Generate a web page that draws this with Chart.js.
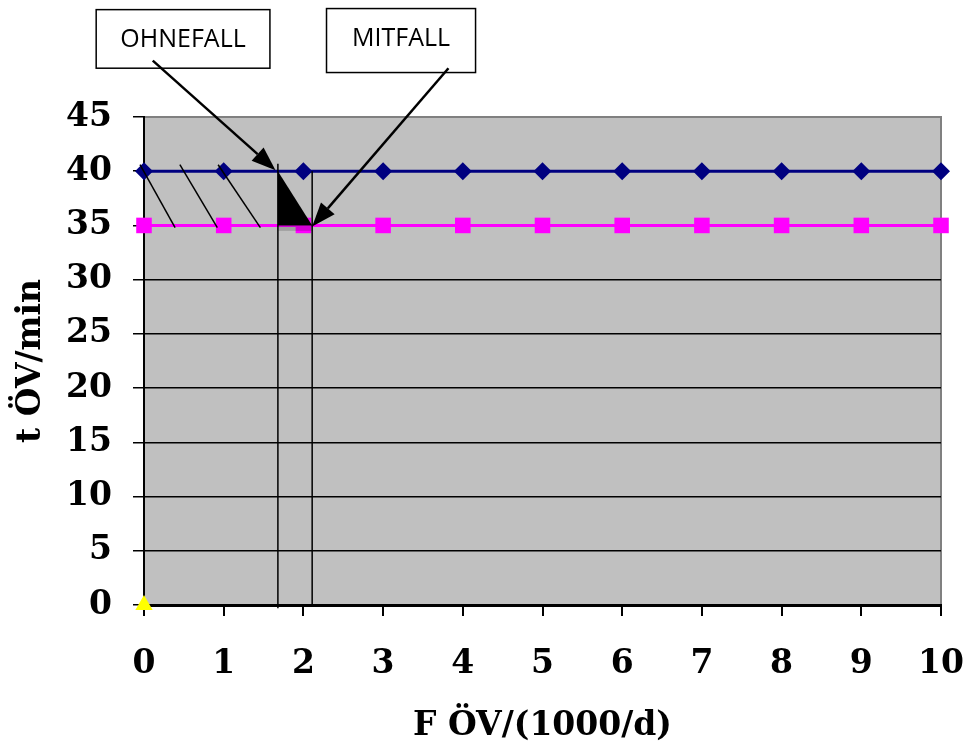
<!DOCTYPE html>
<html>
<head>
<meta charset="utf-8">
<script src="https://cdn.jsdelivr.net/npm/chart.js@4/dist/chart.umd.min.js"></script>
<style>
  html, body { margin: 0; padding: 0; background: #ffffff; }
  canvas { display: block; }
</style>
</head>
<body>
<canvas id="chart" width="967" height="749"></canvas>
<script>
/* data */
var xValues = [0, 1, 2, 3, 4, 5, 6, 7, 8, 9, 10];
var ohneFall = [40, 40, 40, 40, 40, 40, 40, 40, 40, 40, 40];
var mitFall = [35, 35, 35, 35, 35, 35, 35, 35, 35, 35, 35];
var originX = [0];
var originY = [0];

var xTitle = "F ÖV/(1000/d)";
var yTitle = "t ÖV/min";

/* annotation marks, in axis units */
var fallX = [1.68, 2.11];
var hatchStart = [[-0.05, 40.6], [0.45, 40.6], [0.93, 40.6]];
var hatchEnd = [[0.39, 34.8], [0.92, 34.8], [1.46, 34.8]];
var boxLabels = ["OHNEFALL", "MITFALL"];
var boxFrom = [[-0.60, 54.9], [2.29, 55.0]];
var boxTo = [[1.58, 49.5], [4.16, 49.1]];
var arrowFrom = [[0.11, 50.2], [3.82, 49.5]];
var arrowTo = [[1.65, 40.1], [2.11, 34.9]];

function toPoints(xs, ys){
	var pts = [];
	for(var i = 0; i < xs.length; i++){
		pts.push({x: xs[i], y: ys[i]});
	}
	return pts;
}

var serif = "'DejaVu Serif', serif";

var bgPlugin = {
	id: 'plotBg',
	beforeDraw: function(chart){
		var a = chart.chartArea;
		var ctx = chart.ctx;
		ctx.save();
		ctx.fillStyle = "#C0C0C0";
		ctx.fillRect(a.left, a.top, a.right - a.left, a.bottom - a.top);
		ctx.strokeStyle = "#808080";
		ctx.lineWidth = 2;
		ctx.beginPath();
		ctx.moveTo(a.left, a.top);
		ctx.lineTo(a.right, a.top);
		ctx.lineTo(a.right, a.bottom);
		ctx.stroke();
		ctx.restore();
	}
};

function arrow(ctx, x1, y1, x2, y2){
	var ang = Math.atan2(y2 - y1, x2 - x1);
	var len = 24, half = 9;
	var bx = x2 - Math.cos(ang) * len;
	var by = y2 - Math.sin(ang) * len;
	ctx.beginPath();
	ctx.moveTo(x1, y1);
	ctx.lineTo(bx, by);
	ctx.stroke();
	ctx.beginPath();
	ctx.moveTo(x2, y2);
	ctx.lineTo(bx + Math.sin(ang) * half, by - Math.cos(ang) * half);
	ctx.lineTo(bx - Math.sin(ang) * half, by + Math.cos(ang) * half);
	ctx.closePath();
	ctx.fill();
}

var annoPlugin = {
	id: 'annos',
	afterDatasetsDraw: function(chart){
		var ctx = chart.ctx;
		var xs = chart.scales.x, ys = chart.scales.y;
		function px(v){ return xs.getPixelForValue(v); }
		function py(v){ return ys.getPixelForValue(v); }
		ctx.save();
		ctx.strokeStyle = "#000000";

		/* shaded strip under the triangle */
		ctx.fillStyle = "rgba(0,0,0,0.17)";
		ctx.fillRect(px(fallX[0]), py(35), px(fallX[1]) - px(fallX[0]), py(34.5) - py(35));

		/* black triangle */
		ctx.fillStyle = "#000000";
		ctx.beginPath();
		ctx.moveTo(px(fallX[0]), py(40));
		ctx.lineTo(px(fallX[0]), py(35));
		ctx.lineTo(px(fallX[1]), py(35));
		ctx.closePath();
		ctx.fill();

		/* vertical lines */
		ctx.lineWidth = 1.5;
		ctx.beginPath();
		ctx.moveTo(px(fallX[0]), py(40.7));
		ctx.lineTo(px(fallX[0]), py(-0.3));
		ctx.moveTo(px(fallX[1]), py(40));
		ctx.lineTo(px(fallX[1]), py(-0.1));
		ctx.stroke();

		/* hatch lines */
		for(var i = 0; i < hatchStart.length; i++){
			ctx.beginPath();
			ctx.moveTo(px(hatchStart[i][0]), py(hatchStart[i][1]));
			ctx.lineTo(px(hatchEnd[i][0]), py(hatchEnd[i][1]));
			ctx.stroke();
		}

		/* label boxes */
		ctx.font = "25px 'Open Sans', sans-serif";
		ctx.textAlign = "center";
		ctx.textBaseline = "middle";
		for(var j = 0; j < boxLabels.length; j++){
			var x1 = px(boxFrom[j][0]), y1 = py(boxFrom[j][1]);
			var x2 = px(boxTo[j][0]), y2 = py(boxTo[j][1]);
			ctx.fillStyle = "#ffffff";
			ctx.fillRect(x1, y1, x2 - x1, y2 - y1);
			ctx.lineWidth = 1.5;
			ctx.strokeRect(x1, y1, x2 - x1, y2 - y1);
			ctx.fillStyle = "#000000";
			ctx.fillText(boxLabels[j], (x1 + x2) / 2, y1 + 30);
		}

		/* arrows */
		ctx.lineWidth = 2.5;
		for(var k = 0; k < arrowFrom.length; k++){
			arrow(ctx, px(arrowFrom[k][0]), py(arrowFrom[k][1]), px(arrowTo[k][0]), py(arrowTo[k][1]));
		}
		ctx.restore();
	}
};

var chart = new Chart(document.getElementById("chart"), {
	type: 'line',
	data: {
		datasets: [{
			data: toPoints(xValues, ohneFall),
			borderColor: "#000080",
			backgroundColor: "#000080",
			borderWidth: 3,
			pointStyle: 'rectRot',
			pointRadius: 9,
			pointBorderWidth: 0,
			clip: false
		}, {
			data: toPoints(xValues, mitFall),
			borderColor: "#FF00FF",
			backgroundColor: "#FF00FF",
			borderWidth: 3,
			pointStyle: 'rect',
			pointRadius: 11,
			pointBorderWidth: 0,
			clip: false
		}, {
			data: toPoints(originX, originY),
			borderColor: "#FFFF00",
			backgroundColor: "#FFFF00",
			showLine: false,
			pointStyle: 'triangle',
			pointRadius: 10,
			pointBorderWidth: 0,
			clip: false
		}]
	},
	options: {
		responsive: false,
		animation: false,
		devicePixelRatio: 1,
		layout: { padding: { left: 0, top: 117, right: 26, bottom: 0 } },
		plugins: { legend: { display: false }, tooltip: { enabled: false } },
		scales: {
			x: {
				type: 'linear',
				min: 0,
				max: 10,
				afterFit: function(scale){
					scale.height = 144;
					scale.paddingLeft = 0;
					scale.paddingRight = 0;
				},
				ticks: {
					stepSize: 1,
					color: "#000000",
					padding: 29,
					maxRotation: 0,
					font: { family: serif, size: 33, weight: 'bold' }
				},
				grid: { drawOnChartArea: false, color: "#000000", tickLength: 11, lineWidth: 2 },
				border: { color: "#000000", width: 3 },
				title: {
					display: true,
					text: xTitle,
					color: "#000000",
					padding: { top: 0, bottom: 3 },
					font: { family: serif, size: 33, weight: 'bold' }
				}
			},
			y: {
				min: 0,
				max: 45,
				afterFit: function(scale){
					scale.width = 144;
					scale.paddingTop = 0;
					scale.paddingBottom = 0;
				},
				ticks: {
					stepSize: 5,
					color: "#000000",
					padding: 21,
					font: { family: serif, size: 33, weight: 'bold' }
				},
				grid: {
					color: function(c){ return c.tick && c.tick.value === 45 ? "#808080" : "#000000"; },
					tickColor: "#000000",
					tickLength: 11,
					lineWidth: 1.5
				},
				border: { color: "#000000", width: 2 },
				title: {
					display: true,
					text: yTitle,
					color: "#000000",
					padding: { top: 12, bottom: 0 },
					font: { family: serif, size: 33, weight: 'bold' }
				}
			}
		}
	},
	plugins: [bgPlugin, annoPlugin]
});
</script>
</body>
</html>
